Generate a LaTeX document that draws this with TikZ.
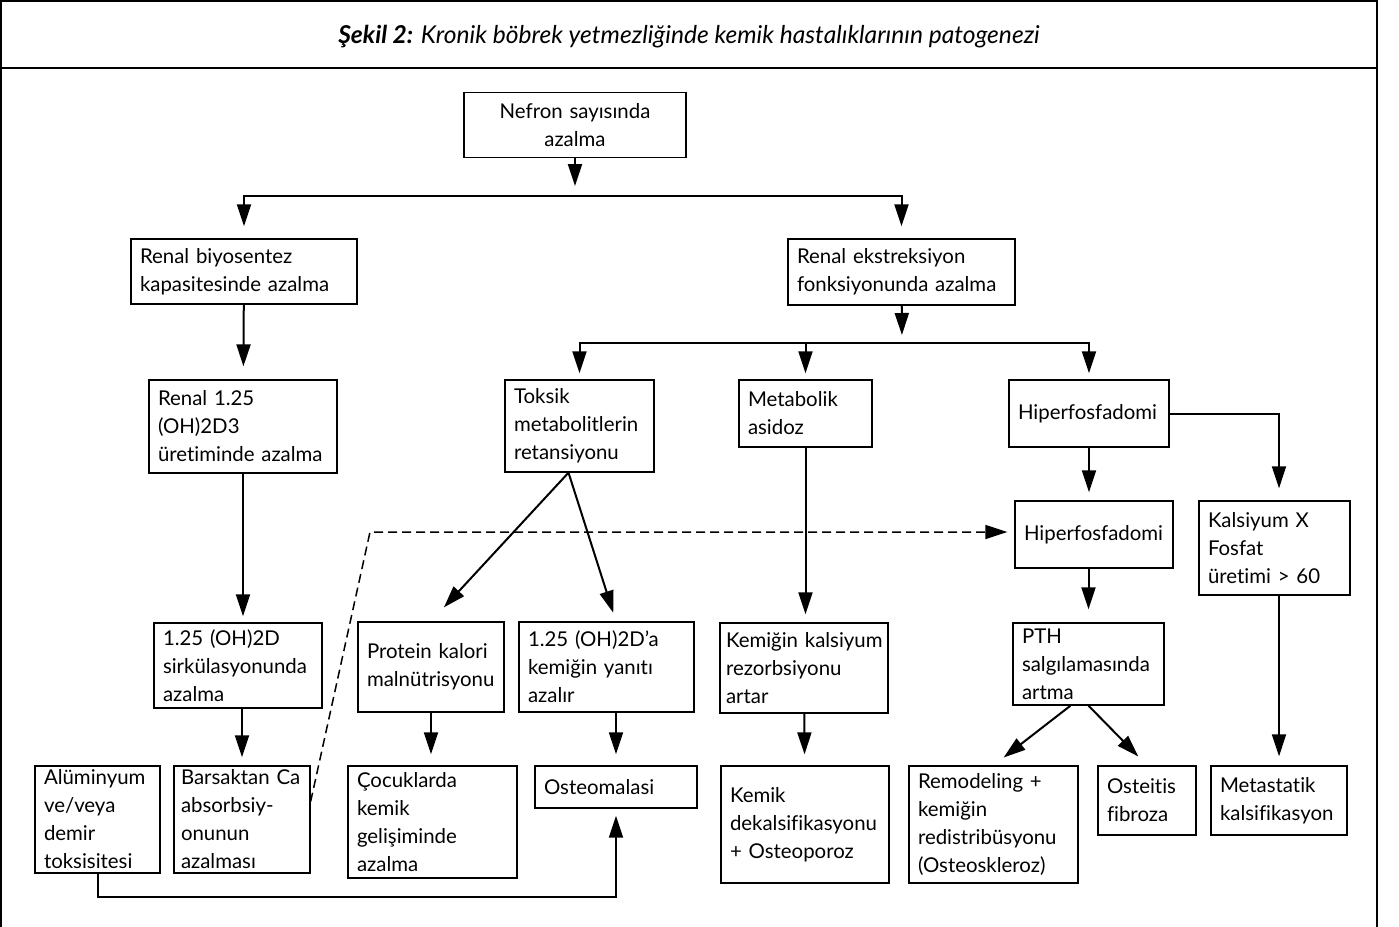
\documentclass[tikz,border=0pt]{standalone}
\usepackage{fontspec}
\setmainfont{Lato}[Ligatures=NoCommon]
\usepackage{tikz}
\usetikzlibrary{arrows.meta,positioning}

\begin{document}
\begin{tikzpicture}[
  x=0.5pt, y=-0.5pt,
  box/.style={draw, line width=0.65pt, inner xsep=4.5pt, inner ysep=2pt, align=left, font=\fontsize{10.2}{14}\selectfont, execute at begin node={\hyphenpenalty=10000}},
  arrow/.style={-{Triangle[length=11pt,width=7pt]}, line width=1pt},
  dasharrow/.style={-{Triangle[length=11pt,width=7pt]}, line width=0.75pt, dash pattern=on 4.5pt off 2.5pt},
  frame/.style={line width=0.9pt}
]
\useasboundingbox (0,0) rectangle (1399,927);
\draw[frame] (1,927) -- (1,1) -- (1377,1) -- (1377,927);
\draw[frame] (1,68) -- (1377,68);
\node[font=\fontsize{12.3}{14}\selectfont\itshape] (title) at (689,37) {\textbf{Şekil 2:} Kronik böbrek yetmezliğinde kemik hastalıklarının patogenezi};

\node[box, align=center, text width=102pt, minimum height=32.5pt] (nefron) at (575,125) {Nefron sayısında\\azalma};
\node[box, text width=104pt, minimum height=32.5pt] (renalbio) at (244,271.5) {Renal biyosentez\\kapasitesinde~azalma};
\node[box, text width=104.5pt, minimum height=33pt] (ekstr) at (901.5,272) {Renal ekstreksiyon\\fonksiyonunda~azalma};
\node[box, text width=85pt, minimum height=46.5pt] (r125) at (243,426.5) {Renal 1.25\\(OH)2D3\\üretiminde~azalma};
\node[box, text width=65.5pt, minimum height=46pt] (toksik) at (579.5,426) {Toksik\\metabolitlerin\\retansiyonu};
\node[box, text width=57.5pt, minimum height=33.5pt] (metab) at (805.5,413.5) {Metabolik\\asidoz};
\node[box, text width=71pt, minimum height=33.5pt] (hf1) at (1089,413.5) {Hiperfosfadomi};
\node[box, text width=70pt, minimum height=33.5pt] (hf2) at (1094,534.5) {Hiperfosfadomi};
\node[box, text width=66.5pt, minimum height=47pt] (kals) at (1274.5,548) {Kalsiyum~X\\Fosfat\\üretimi~>~60};
\node[box, text width=75pt, minimum height=42.5pt] (circ) at (238,665.5) {1.25~(OH)2D\\sirkülasyonunda\\azalma};
\node[box, text width=64pt, minimum height=45pt] (protein) at (431,667) {Protein~kalori\\malnütrisyonu};
\node[box, text width=78.5pt, minimum height=45pt] (d125a) at (606.5,667) {1.25~(OH)2D’a\\kemiğin~yanıtı\\azalır};
\node[box, inner xsep=3pt, text width=78pt, minimum height=45pt] (kemigin) at (804,668) {Kemiğin~kalsiyum\\rezorbsiyonu\\artar};
\node[box, text width=66.5pt, minimum height=41pt] (pth) at (1088.5,664) {PTH\\salgılamasında\\artma};
\node[box, text width=53.5pt, minimum height=53.5pt] (alum) at (97.5,819.5) {Alüminyum\\ve/veya\\demir\\toksisitesi};
\node[box, inner xsep=3.5pt, text width=61pt, minimum height=53.5pt] (bars) at (242,819.5) {Barsaktan~Ca\\absorbsiy-\\onunun\\azalması};
\node[box, text width=75.5pt, minimum height=56pt] (cocuk) at (432.5,822) {Çocuklarda\\kemik\\gelişiminde\\azalma};
\node[box, text width=72pt, minimum height=21pt] (osteo) at (616,787) {Osteomalasi};
\node[box, text width=75pt, minimum height=58.5pt] (kemik) at (805,824.5) {Kemik\\dekalsifikasyonu\\+~Osteoporoz};
\node[box, text width=75.5pt, minimum height=58.5pt] (remod) at (993.5,824.5) {Remodeling~+\\kemiğin\\redistribüsyonu\\(Osteoskleroz)};
\node[box, text width=40pt, minimum height=34.5pt] (osteitis) at (1147,800.5) {Osteitis\\fibroza};
\node[box, text width=59pt, minimum height=34.5pt] (metast) at (1279,800.5) {Metastatik\\kalsifikasyon};

\coordinate (s1) at (575,196);
\coordinate (s2) at (902,343);
\coordinate (bend) at (370,532);

\draw[arrow, shorten >=5pt] (nefron) -- (s1);
\draw[arrow, shorten >=6pt] (s1) -| (renalbio);
\draw[arrow, shorten >=6pt] (s1) -| (ekstr);
\draw[arrow, shorten >=4pt] (ekstr) -- (s2);
\draw[arrow, shorten >=3pt] (s2) -| (toksik);
\draw[arrow, shorten >=3pt] (s2) -| (metab);
\draw[arrow, shorten >=3pt] (s2) -| (hf1);
\draw[arrow, shorten >=6.5pt] (renalbio) -- (r125);
\draw[arrow, shorten >=3pt] (r125) -- (r125 |- circ.north);
\draw[arrow, shorten >=4pt] (circ.south -| bars) -- (bars);
\draw[arrow, shorten >=9.5pt] ([xshift=-5.5pt]toksik.south) -- (protein.north);
\draw[arrow, shorten >=4.5pt] ([xshift=-5.5pt]toksik.south) -- (d125a.north -| osteo);
\draw[arrow, shorten >=5.5pt] (protein) -- (protein |- cocuk.north);
\draw[arrow, shorten >=5.5pt] (d125a.south -| osteo) -- (osteo);
\draw[arrow, shorten >=4pt] (metab) -- (metab |- kemigin.north);
\draw[arrow, shorten >=5.5pt] (kemigin) -- (kemik);
\draw[arrow, shorten >=4pt] (hf1) -- (hf1 |- hf2.north);
\draw[arrow, shorten >=6pt] (hf1.east) -| (kals.north -| metast);
\draw[arrow, shorten >=6.5pt] (hf2.south -| pth) -- (pth);
\draw[arrow, shorten >=4.5pt] (kals.south -| metast) -- (metast);
\draw[arrow, shorten >=6.4pt] ([xshift=-9pt]pth.south) -- (remod.north);
\draw[arrow, shorten >=6.2pt] (pth.south) -- (osteitis.north);
\draw[arrow, shorten >=3.5pt] (alum.south) -- ++(0,23) -| (osteo.south);
\draw[dasharrow, shorten >=3.5pt] ([yshift=9pt]bars.east) -- (bend) -- (bend -| hf2.west);
\end{tikzpicture}
\end{document}
